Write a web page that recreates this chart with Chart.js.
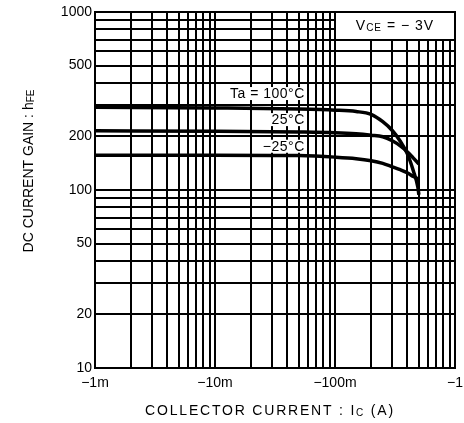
<!DOCTYPE html>
<html>
<head>
<meta charset="utf-8">
<script src="https://cdn.jsdelivr.net/npm/chart.js@4/dist/chart.umd.min.js"></script>
<style>
html, body { margin: 0; padding: 0; background: #fff; }
</style>
</head>
<body>
<canvas id="gainChart" width="464" height="423"></canvas>
<script>
'use strict';

// collector current, plotted as magnitude (A)
const currentA100 = [0.001, 0.01, 0.05, 0.1, 0.15, 0.2, 0.25, 0.3, 0.35, 0.4, 0.45, 0.49, 0.5];
const currentA = [0.001, 0.01, 0.05, 0.1, 0.15, 0.2, 0.25, 0.3, 0.35, 0.4, 0.45, 0.5];

// DC current gain hFE
const hfe100 = [292, 289, 285, 281, 276, 266, 242, 216, 188, 160, 128, 104, 94];
const hfe25 = [215, 214, 212, 210, 207, 203, 199, 189, 177, 164, 151, 140];
const hfeMinus25 = [157, 157, 156, 153, 150, 146, 141, 135, 130, 125, 119, 115];

const seriesNames = ['Ta = 100°C', '25°C', '−25°C'];

const xTickValues = [0.001, 0.01, 0.1, 1];
const xTickLabels = ['−1m', '−10m', '−100m', '−1'];
const yTickValues = [10, 20, 50, 100, 200, 500, 1000];

const FONT = '"Liberation Sans", Arial, Helvetica, sans-serif';

const pair = (xs, ys) => xs.map((x, i) => ({x: x, y: ys[i]}));

function logGrid(min, max) {
    const out = [];
    for (let e = Math.round(Math.log10(min)); e < Math.round(Math.log10(max)); e++) {
        for (let m = 1; m < 10; m++) {
            out.push({value: +(m * Math.pow(10, e)).toPrecision(6)});
        }
    }
    out.push({value: max});
    return out;
}

function near(a, b) {
    return Math.abs(a - b) < b * 1e-6;
}

// draw text made of runs (normal + subscript), anchored by align
function drawRuns(ctx, runs, x, y, align, spacing) {
    ctx.save();
    ctx.letterSpacing = (spacing || 0) + 'px';
    let total = 0;
    runs.forEach(r => {
        ctx.font = r.size + 'px ' + FONT;
        r.w = ctx.measureText(r.t).width;
        total += r.w;
    });
    let cx = align === 'right' ? x - total : align === 'center' ? x - total / 2 : x;
    ctx.fillStyle = '#000';
    ctx.textBaseline = 'middle';
    ctx.textAlign = 'left';
    runs.forEach(r => {
        ctx.font = r.size + 'px ' + FONT;
        ctx.fillText(r.t, cx, y + (r.dy || 0));
        cx += r.w;
    });
    ctx.restore();
    return total;
}

const decor = {
    id: 'decor',
    beforeDraw(chart) {
        const ctx = chart.ctx;
        ctx.save();
        ctx.fillStyle = '#fff';
        ctx.fillRect(0, 0, chart.width, chart.height);
        ctx.restore();
    },
    afterDatasetsDraw(chart) {
        const ctx = chart.ctx;
        const xs = chart.scales.x;
        const ys = chart.scales.y;
        const area = chart.chartArea;

        // curve labels on white patches
        const spots = [[0.056, 346], [0.056, 247], [0.056, 175]];
        seriesNames.forEach((name, i) => {
            const px = xs.getPixelForValue(spots[i][0]);
            const py = ys.getPixelForValue(spots[i][1]);
            ctx.save();
            ctx.font = '14px ' + FONT;
            ctx.letterSpacing = '0.5px';
            const w = ctx.measureText(name).width;
            ctx.fillStyle = '#fff';
            ctx.fillRect(px - w - 1, py - 7, w + 1, 13);
            ctx.restore();
            drawRuns(ctx, [{t: name, size: 14}], px, py, 'right', 0.5);
        });

        // VCE box
        const bx = Math.round(xs.getPixelForValue(0.1));
        const by = Math.round(ys.getPixelForValue(700));
        ctx.save();
        ctx.fillStyle = '#fff';
        ctx.fillRect(bx, area.top, area.right - bx, by - area.top);
        ctx.strokeStyle = '#000';
        ctx.lineWidth = 2;
        ctx.strokeRect(bx, area.top, area.right - bx, by - area.top);
        ctx.restore();
        drawRuns(ctx, [
            {t: 'V', size: 14},
            {t: 'CE', size: 10, dy: 2},
            {t: ' = − 3V', size: 14}
        ], (bx + area.right) / 2, (area.top + by) / 2, 'center', 1);
    },
    afterDraw(chart) {
        const ctx = chart.ctx;
        drawRuns(ctx, [
            {t: 'COLLECTOR CURRENT : I', size: 14},
            {t: 'C', size: 10, dy: 2},
            {t: ' (A)', size: 14}
        ], 270, 411, 'center', 1.8);

        ctx.save();
        ctx.translate(29, 171);
        ctx.rotate(-Math.PI / 2);
        drawRuns(ctx, [
            {t: 'DC CURRENT GAIN : h', size: 14},
            {t: 'FE', size: 10, dy: 2}
        ], 0, 0, 'center', 0);
        ctx.restore();
    }
};

const ctx = document.getElementById('gainChart').getContext('2d');
const lineStyle = {
    borderColor: '#000',
    borderWidth: 3.5,
    pointRadius: 0,
    fill: false,
    cubicInterpolationMode: 'monotone'
};

new Chart(ctx, {
    type: 'line',
    data: {
        datasets: [
            Object.assign({label: seriesNames[0], data: pair(currentA100, hfe100)}, lineStyle),
            Object.assign({label: seriesNames[1], data: pair(currentA, hfe25)}, lineStyle),
            Object.assign({label: seriesNames[2], data: pair(currentA, hfeMinus25)}, lineStyle)
        ]
    },
    options: {
        responsive: false,
        animation: false,
        devicePixelRatio: 1,
        layout: {padding: {top: 12, right: 9, left: 0, bottom: 0}},
        plugins: {
            legend: {display: false},
            tooltip: {enabled: false}
        },
        scales: {
            x: {
                type: 'logarithmic',
                min: 0.001,
                max: 1,
                afterBuildTicks: s => { s.ticks = logGrid(0.001, 1); },
                afterFit: s => { s.height = 55; s.paddingRight = 0; s.paddingLeft = 0; },
                grid: {color: '#000', lineWidth: 2, drawTicks: false},
                border: {color: '#000', width: 2},
                ticks: {
                    autoSkip: false,
                    maxRotation: 0,
                    padding: 7,
                    color: '#000',
                    font: {family: FONT, size: 14},
                    callback: v => {
                        const i = xTickValues.findIndex(t => near(v, t));
                        return i < 0 ? '' : xTickLabels[i];
                    }
                }
            },
            y: {
                type: 'logarithmic',
                min: 10,
                max: 1000,
                afterBuildTicks: s => { s.ticks = logGrid(10, 1000); },
                afterFit: s => { s.width = 95; s.paddingTop = 0; s.paddingBottom = 0; },
                grid: {color: '#000', lineWidth: 2, drawTicks: false},
                border: {color: '#000', width: 2},
                ticks: {
                    autoSkip: false,
                    padding: 3,
                    color: '#000',
                    font: {family: FONT, size: 14},
                    callback: v => {
                        const i = yTickValues.findIndex(t => near(v, t));
                        return i < 0 ? '' : String(yTickValues[i]);
                    }
                }
            }
        }
    },
    plugins: [decor]
});
</script>
</body>
</html>
